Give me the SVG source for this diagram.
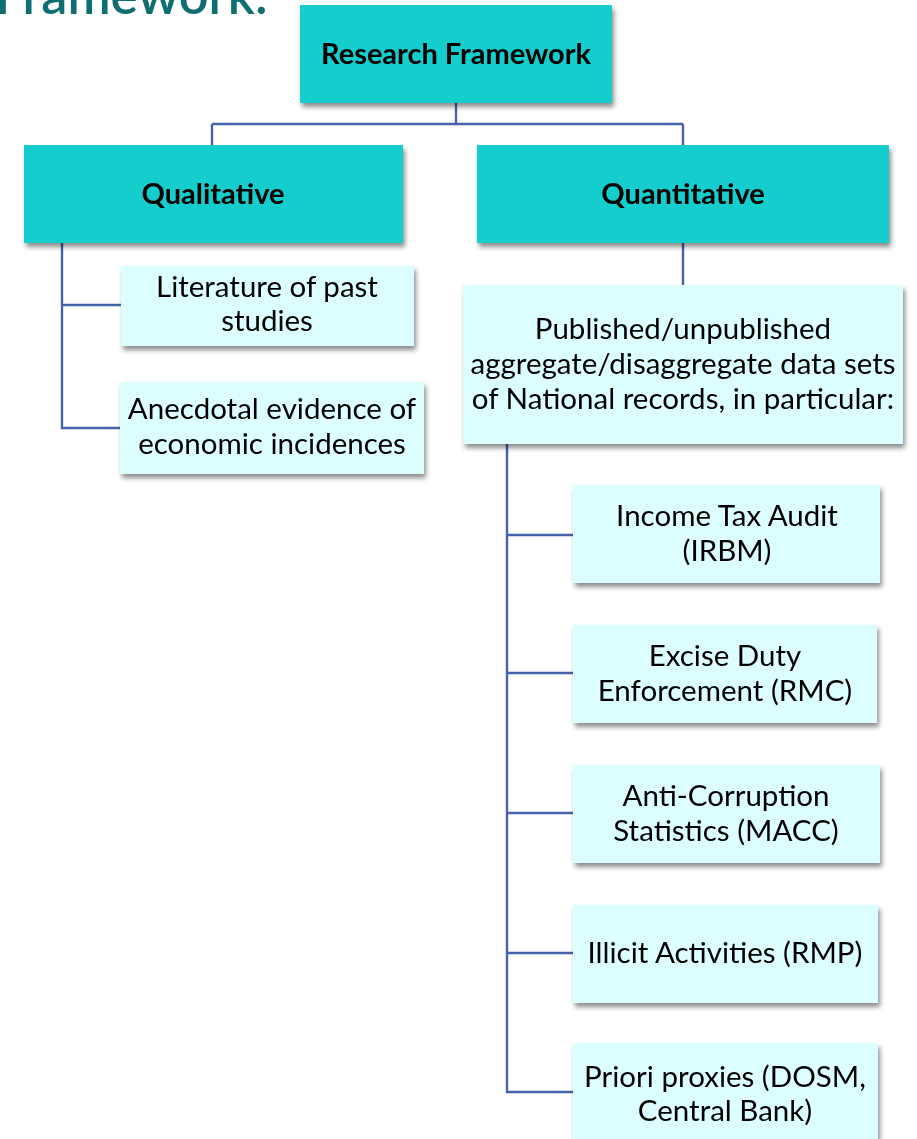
<svg xmlns="http://www.w3.org/2000/svg" width="917" height="1139" viewBox="0 0 917 1139">
<style>
.dark{fill:#12CDCD}
.light{fill:#DDFEFE}
.t{font-family:Lato,"Liberation Sans",sans-serif;font-size:29.5px;fill:#000;text-anchor:middle}
.b{font-family:Lato,"Liberation Sans",sans-serif;font-size:29px;font-weight:bold;fill:#000;text-anchor:middle}
.c{fill:none;stroke:#4562AA;stroke-width:2.4}
</style>
<defs>
<filter id="sh" x="-10%" y="-10%" width="130%" height="140%">
<feGaussianBlur in="SourceAlpha" stdDeviation="2.5"/>
<feOffset dx="2" dy="4" result="o"/>
<feComponentTransfer><feFuncA type="linear" slope="0.45"/></feComponentTransfer>
<feMerge><feMergeNode/><feMergeNode in="SourceGraphic"/></feMerge>
</filter>
</defs>
<rect width="917" height="1139" fill="#fff"/>
<text x="268" y="14" font-family="Lato,'Liberation Sans',sans-serif" font-size="52" font-weight="600" fill="#0E6E70" text-anchor="end">Framework:</text>
<g id="connectors">
<path class="c" d="M456 103V124M212 124H683M212 124V145M683 124V145"/>
<path class="c" d="M62 243V428H120M62 305H121"/>
<path class="c" d="M683 243V285"/>
<path class="c" d="M507 444V1092H573M507 535H573M507 673H573M507 813H573M507 953H573"/>
</g>
<g id="root" filter="url(#sh)"><rect class="dark" x="300" y="5" width="312" height="98"/><text class="b" x="456" y="64">Research Framework</text></g>
<g id="qualitative" filter="url(#sh)"><rect class="dark" x="24" y="145" width="379" height="98"/><text class="b" x="213" y="204">Qualitative</text></g>
<g id="quantitative" filter="url(#sh)"><rect class="dark" x="477" y="145" width="412" height="98"/><text class="b" x="683" y="204">Quantitative</text></g>
<g id="literature" filter="url(#sh)"><rect class="light" x="121" y="266" width="293" height="80"/><text class="t" x="267" y="297">Literature of past</text><text class="t" x="267" y="331">studies</text></g>
<g id="anecdotal" filter="url(#sh)"><rect class="light" x="120" y="382" width="304" height="92"/><text class="t" x="272" y="419">Anecdotal evidence of</text><text class="t" x="272" y="454">economic incidences</text></g>
<g id="published" filter="url(#sh)"><rect class="light" x="463" y="285" width="440" height="159"/><text class="t" x="683" y="339">Published/unpublished</text><text class="t" x="683" y="374">aggregate/disaggregate data sets</text><text class="t" x="683" y="409">of National records, in particular:</text></g>
<g id="income" filter="url(#sh)"><rect class="light" x="573" y="485" width="307" height="98"/><text class="t" x="727" y="526">Income Tax Audit</text><text class="t" x="727" y="561">(IRBM)</text></g>
<g id="excise" filter="url(#sh)"><rect class="light" x="573" y="625" width="304" height="98"/><text class="t" x="725" y="666">Excise Duty</text><text class="t" x="725" y="701">Enforcement (RMC)</text></g>
<g id="anticorruption" filter="url(#sh)"><rect class="light" x="573" y="765" width="307" height="98"/><text class="t" x="726" y="806">Anti-Corruption</text><text class="t" x="726" y="841">Statistics (MACC)</text></g>
<g id="illicit" filter="url(#sh)"><rect class="light" x="573" y="905" width="305" height="98"/><text class="t" x="725" y="963">Illicit Activities (RMP)</text></g>
<g id="priori" filter="url(#sh)"><rect class="light" x="573" y="1043" width="305" height="110"/><text class="t" x="725" y="1087">Priori proxies (DOSM,</text><text class="t" x="725" y="1121">Central Bank)</text></g>
</svg>
